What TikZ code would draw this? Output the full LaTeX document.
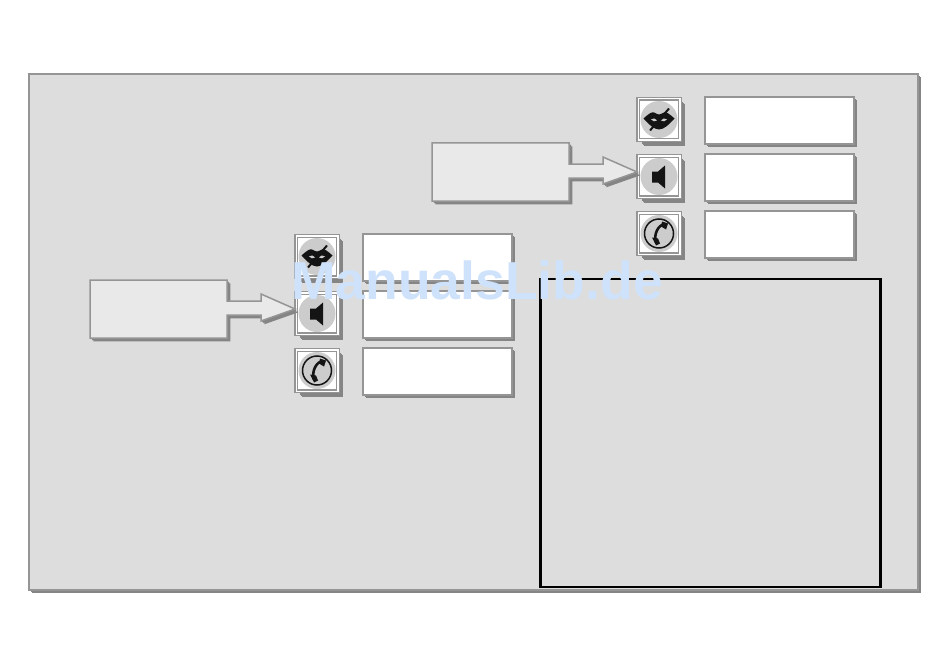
\documentclass[tikz,border=0pt]{standalone}
\usepackage{fontspec}
\setmainfont{Liberation Sans}
\usetikzlibrary{shadows}

\definecolor{panelgray}{HTML}{DDDDDD}
\definecolor{edgegray}{HTML}{959595}
\definecolor{shadegray}{HTML}{858585}
\definecolor{notegray}{HTML}{E9E9E9}
\definecolor{discgray}{HTML}{CCCCCC}
\definecolor{iconblack}{HTML}{141414}
\definecolor{markblue}{HTML}{CFE2FB}

\tikzset{
    shaded box/.style={
        general shadow={shadow xshift=3.3pt,shadow yshift=-3.3pt,fill=shadegray},
        general shadow={shadow xshift=2pt,shadow yshift=-2pt,fill=shadegray},
        general shadow={shadow xshift=1pt,shadow yshift=-1pt,fill=shadegray}},
    shaded frame/.style={shaded box,
        general shadow={shadow xshift=5.5pt,shadow yshift=-5.5pt,fill=shadegray},
        general shadow={shadow xshift=4.5pt,shadow yshift=-4.5pt,fill=shadegray}},
    panel/.style={rectangle,draw=edgegray,line width=1.5pt,fill=panelgray,minimum width=889pt,minimum height=516pt,inner sep=0pt,shaded box},
    blank/.style={rectangle,draw=edgegray,line width=1.5pt,fill=white,minimum width=149pt,minimum height=47pt,inner sep=0pt,shaded box},
    iconframe/.style={rectangle,draw=edgegray,line width=1.3pt,double=white,double distance=1.5pt,fill=white,minimum width=41.5pt,minimum height=41.5pt,inner sep=0pt,shaded frame},
    disc/.style={circle,fill=discgray,minimum size=37pt,inner sep=0pt},
    note/.pic={
        \draw[draw=edgegray,line width=1.5pt,fill=notegray,shaded box,line join=miter]
            (-205,-29) -- (-68,-29) -- (-68,-8) -- (-34,-8) -- (-34,-15) -- (0,0)
            -- (-34,12) -- (-34,6) -- (-68,6) -- (-68,29) -- (-205,29) -- cycle;
    },
    lips/.pic={
        \fill[iconblack] (-15.5,-1) .. controls (-10,-6) and (-7,-8) .. (-5,-7)
            .. controls (-3,-6) and (-1,-5) .. (0,-5) .. controls (1,-5) and (3,-6) .. (5,-7)
            .. controls (7,-8) and (10,-6) .. (15.5,-1) .. controls (10,5) and (5,10) .. (0,10)
            .. controls (-5,10) and (-10,5) .. (-15.5,-1) -- cycle;
        \fill[discgray] (-8,0) .. controls (-5,-1.5) and (-3,-1) .. (-2,1) .. controls (-4,2.5) and (-6,2) .. (-8,0) -- cycle;
        \fill[discgray] (8,0) .. controls (5,-1.5) and (3,-1) .. (2,1) .. controls (4,2.5) and (6,2) .. (8,0) -- cycle;
        \draw[iconblack,line width=2pt] (10,-11) -- (-9,11);
    },
    speaker/.pic={
        \fill[iconblack] (-7,-5) -- (-1,-5) -- (6,-11) -- (6,12) -- (-1,6) -- (-7,6) -- cycle;
    },
    phone/.pic={
        \draw[iconblack,line width=1.5pt] (0,0) circle (14.5);
        \draw[iconblack,line width=2.6pt] (6,-9) .. controls (0,-10) and (-6,1) .. (-3,9);
        \fill[iconblack] (3,-12) -- (9,-10) -- (7,-4) -- (2,-7) -- cycle;
        \fill[iconblack] (-7,4) -- (-1,5) -- (1,10) -- (-3,12) -- cycle;
    },
}

\begin{document}
\begin{tikzpicture}[x=1pt,y=-1pt]
    \useasboundingbox[fill=white] (0,0) rectangle (950,666);

    \node (frame) at (473.5,332) [panel] {};
    \node (viewer) at (710.5,433) [rectangle,draw=black,line width=2.4pt,minimum width=340pt,minimum height=308pt,inner sep=0pt] {};

    % upper group
    \node (muteA) at (659,119.5) [iconframe] {};
    \node (volA) at (659,176.5) [iconframe] {};
    \node (callA) at (659,233.5) [iconframe] {};
    \node (discmuteA) at (muteA) [disc] {};
    \node (discvolA) at (volA) [disc] {};
    \node (disccallA) at (callA) [disc] {};
    \pic at (muteA) {lips};
    \pic at (volA) {speaker};
    \pic at (callA) {phone};
    \node (textmuteA) at (779.5,120.5) [blank] {};
    \node (textvolA) at (779.5,177.5) [blank] {};
    \node (textcallA) at (779.5,234.5) [blank] {};
    \pic at (637,172) {note};

    % lower group
    \node (muteB) at (317,256.5) [iconframe] {};
    \node (volB) at (317,313.5) [iconframe] {};
    \node (callB) at (317,370.5) [iconframe] {};
    \node (discmuteB) at (muteB) [disc] {};
    \node (discvolB) at (volB) [disc] {};
    \node (disccallB) at (callB) [disc] {};
    \pic at (muteB) {lips};
    \pic at (volB) {speaker};
    \pic at (callB) {phone};
    \node (textmuteB) at (437.5,257.5) [blank] {};
    \node (textvolB) at (437.5,314.5) [blank] {};
    \node (textcallB) at (437.5,371.5) [blank] {};
    \pic at (295,309) {note};

    \node (mark) at (477,280) [text=markblue,font=\fontsize{53.5}{53.5}\selectfont\bfseries,inner sep=0pt] {ManualsLib.de};
\end{tikzpicture}
\end{document}
